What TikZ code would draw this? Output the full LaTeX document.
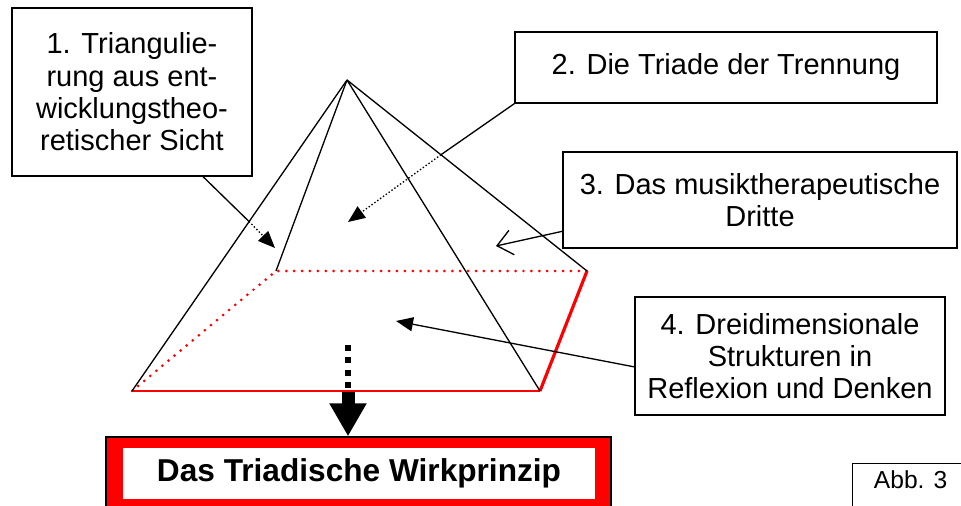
\documentclass[tikz,border=0pt]{standalone}
\usepackage{fontspec}
\setmainfont{Liberation Sans}
\usetikzlibrary{arrows.meta}

\begin{document}
\begin{tikzpicture}[x=0.2mm,y=-0.2mm,line width=0.75pt,
    hiddenline/.style={dash pattern=on 0.8pt off 1.2pt},
    tip/.style={-{Triangle[length=3.4mm,width=2.8mm]}}]

      \useasboundingbox (0,0) rectangle (961,506);

      \begin{scope}[every node/.style={draw,align=center,inner sep=0pt,
          font=\fontsize{16.5}{18.4}\selectfont}]
        \node (box1) at (132,92)   [minimum width=48mm,minimum height=33.6mm]
          {1. Triangulie-\\rung aus ent-\\wicklungstheo-\\retischer Sicht};
        \node (box2) at (726,67.5) [minimum width=84.4mm,minimum height=14.2mm]
          {2. Die Triade der Trennung};
        \node (box3) at (760,200)  [minimum width=78.8mm,minimum height=19.2mm]
          {3. Das musiktherapeutische\\Dritte};
        \node (box4) at (790,356)  [minimum width=62mm,minimum height=23.6mm]
          {4. Dreidimensionale\\Strukturen in\\Reflexion und Denken};
      \end{scope}

      \node (frame) at (358.5,477) [draw,fill=red,minimum width=101mm,minimum height=16mm] {};
      \node (result) at (359,473.5) [fill=white,minimum width=94.4mm,minimum height=10.2mm,
        font=\bfseries\fontsize{18}{20}\selectfont] {Das Triadische Wirkprinzip};
      \node (abb) at (852,463) [draw,anchor=north west,minimum width=23.2mm,inner xsep=0pt,
        inner ysep=4pt,text height=10.2pt,text depth=20pt,font=\fontsize{14}{16}\selectfont] {Abb. 3};

      \coordinate (top) at (347,80);
      \coordinate (bl)  at (276,271);
      \coordinate (br)  at (587,271);
      \coordinate (fl)  at (132,391);
      \coordinate (fr)  at (540,391);

      \coordinate (drop) at (348,345);
      \draw[line width=3.4pt,dash pattern=on 3.4pt off 3.6pt] (drop) -- (drop |- fl);
      \draw[line width=2.6mm,-{Triangle[length=6.6mm,width=7mm]}] (drop |- fl) -- (drop |- frame.north);

      \draw[red,line width=1.7pt,line cap=round,dash pattern=on 0pt off 4.5pt] (fl) -- (bl) -- (br);
      \draw[red,line width=1.2pt] (fl) -- (fr);
      \draw[red,line width=1.8pt] (fr) -- (br);
      \draw (top) -- (fl);
      \draw (top) -- (bl);
      \draw (top) -- (fr);
      \draw (top) -- (br);

      \coordinate (hid1) at (249,221.5);
      \coordinate (tip1) at (275,248);
      \coordinate (hid2) at (441,154.7);
      \coordinate (tip2) at (348,222);
      \coordinate (tip3) at (496,246);
      \coordinate (tip4) at (396,321);

      \draw (box1.-50) -- (hid1);
      \draw[hiddenline,tip] (hid1) -- (tip1);
      \draw (box2.south west) -- (hid2);
      \draw[hiddenline,tip] (hid2) -- (tip2);
      \draw[-{Straight Barb[length=3mm,width=5mm]}] (box3.189) -- (tip3);
      \draw[tip] (box4.184) -- (tip4);

    \end{tikzpicture}
\end{document}
